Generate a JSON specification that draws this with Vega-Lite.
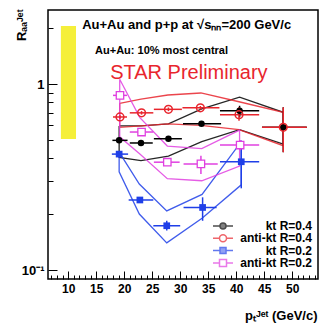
{
  "$schema": "https://vega.github.io/schema/vega-lite/v6.json",
  "width": 270,
  "height": 269,
  "autosize": {"type": "none"},
  "padding": {"left": 48, "top": 10, "right": 14, "bottom": 50},
  "background": "white",
  "config": {
    "view": {"stroke": "black", "strokeWidth": 1.5},
    "font": "Liberation Sans",
    "axis": {"labelFlush": false, "grid": false, "domain": false, "tickColor": "black", "tickWidth": 1, "tickCount": 100, "labelOverlap": false,
      "labelFont": "Liberation Sans", "labelFontWeight": "bold", "labelColor": "black",
      "titleFont": "Liberation Sans", "titleFontSize": 13, "titleFontWeight": "bold", "titleColor": "black"}
  },
  "datasets": {
    "points": [
      {"series": "kt R=0.4", "x": 19.1, "y": 0.498, "xlo": 17.9, "xhi": 20.6, "ylo": 0.485, "yhi": 0.512},
      {"series": "kt R=0.4", "x": 23.0, "y": 0.482, "xlo": 21.0, "xhi": 25.1, "ylo": 0.47, "yhi": 0.495},
      {"series": "kt R=0.4", "x": 27.9, "y": 0.508, "xlo": 25.3, "xhi": 30.3, "ylo": 0.495, "yhi": 0.522},
      {"series": "kt R=0.4", "x": 33.8, "y": 0.612, "xlo": 30.5, "xhi": 37.3, "ylo": 0.595, "yhi": 0.63},
      {"series": "kt R=0.4", "x": 40.6, "y": 0.718, "xlo": 37.1, "xhi": 44.1, "ylo": 0.662, "yhi": 0.764},
      {"series": "kt R=0.4", "x": 48.4, "y": 0.585, "xlo": 44.6, "xhi": 52.6, "ylo": 0.43, "yhi": 0.75},
      {"series": "anti-kt R=0.4", "x": 19.25, "y": 0.665, "xlo": 18.0, "xhi": 20.5, "ylo": 0.65, "yhi": 0.68},
      {"series": "anti-kt R=0.4", "x": 23.1, "y": 0.70, "xlo": 21.0, "xhi": 25.2, "ylo": 0.685, "yhi": 0.715},
      {"series": "anti-kt R=0.4", "x": 27.9, "y": 0.731, "xlo": 25.3, "xhi": 30.3, "ylo": 0.715, "yhi": 0.748},
      {"series": "anti-kt R=0.4", "x": 33.6, "y": 0.745, "xlo": 30.4, "xhi": 37.0, "ylo": 0.728, "yhi": 0.762},
      {"series": "anti-kt R=0.4", "x": 40.5, "y": 0.684, "xlo": 37.1, "xhi": 44.1, "ylo": 0.635, "yhi": 0.752},
      {"series": "anti-kt R=0.4", "x": 48.4, "y": 0.585, "xlo": 44.6, "xhi": 52.6, "ylo": 0.43, "yhi": 0.75},
      {"series": "kt R=0.2", "x": 19.1, "y": 0.42, "xlo": 17.8, "xhi": 20.7, "ylo": 0.41, "yhi": 0.43},
      {"series": "kt R=0.2", "x": 22.8, "y": 0.238, "xlo": 20.8, "xhi": 25.2, "ylo": 0.232, "yhi": 0.245},
      {"series": "kt R=0.2", "x": 27.6, "y": 0.173, "xlo": 25.2, "xhi": 30.0, "ylo": 0.163, "yhi": 0.184},
      {"series": "kt R=0.2", "x": 34.0, "y": 0.217, "xlo": 30.6, "xhi": 36.5, "ylo": 0.184, "yhi": 0.246},
      {"series": "kt R=0.2", "x": 40.9, "y": 0.382, "xlo": 37.1, "xhi": 44.1, "ylo": 0.275, "yhi": 0.45},
      {"series": "anti-kt R=0.2", "x": 19.25, "y": 0.869, "xlo": 18.0, "xhi": 20.5, "ylo": 0.85, "yhi": 0.89},
      {"series": "anti-kt R=0.2", "x": 23.1, "y": 0.552, "xlo": 21.0, "xhi": 25.2, "ylo": 0.54, "yhi": 0.565},
      {"series": "anti-kt R=0.2", "x": 27.7, "y": 0.38, "xlo": 25.3, "xhi": 29.9, "ylo": 0.37, "yhi": 0.39},
      {"series": "anti-kt R=0.2", "x": 33.7, "y": 0.372, "xlo": 30.6, "xhi": 36.7, "ylo": 0.328, "yhi": 0.412},
      {"series": "anti-kt R=0.2", "x": 40.7, "y": 0.47, "xlo": 37.1, "xhi": 44.1, "ylo": 0.44, "yhi": 0.50}
    ],
    "bands": [
      {"series": "kt R=0.4", "ord": 0, "x": 19.1, "y": 0.595},
      {"series": "kt R=0.4", "ord": 1, "x": 23.0, "y": 0.595},
      {"series": "kt R=0.4", "ord": 2, "x": 27.9, "y": 0.61},
      {"series": "kt R=0.4", "ord": 3, "x": 33.85, "y": 0.735},
      {"series": "kt R=0.4", "ord": 4, "x": 40.6, "y": 0.85},
      {"series": "kt R=0.4", "ord": 5, "x": 48.4, "y": 0.705},
      {"series": "kt R=0.4", "ord": 6, "x": 48.4, "y": 0.476},
      {"series": "kt R=0.4", "ord": 7, "x": 40.6, "y": 0.568},
      {"series": "kt R=0.4", "ord": 8, "x": 33.85, "y": 0.49},
      {"series": "kt R=0.4", "ord": 9, "x": 27.9, "y": 0.41},
      {"series": "kt R=0.4", "ord": 10, "x": 23.0, "y": 0.387},
      {"series": "kt R=0.4", "ord": 11, "x": 19.1, "y": 0.403},
      {"series": "kt R=0.4", "ord": 12, "x": 19.1, "y": 0.595},
      {"series": "anti-kt R=0.4", "ord": 0, "x": 19.2, "y": 0.787},
      {"series": "anti-kt R=0.4", "ord": 1, "x": 23.0, "y": 0.83},
      {"series": "anti-kt R=0.4", "ord": 2, "x": 27.8, "y": 0.873},
      {"series": "anti-kt R=0.4", "ord": 3, "x": 33.7, "y": 0.895},
      {"series": "anti-kt R=0.4", "ord": 4, "x": 40.5, "y": 0.803},
      {"series": "anti-kt R=0.4", "ord": 5, "x": 48.4, "y": 0.705},
      {"series": "anti-kt R=0.4", "ord": 6, "x": 48.4, "y": 0.466},
      {"series": "anti-kt R=0.4", "ord": 7, "x": 40.5, "y": 0.568},
      {"series": "anti-kt R=0.4", "ord": 8, "x": 33.7, "y": 0.60},
      {"series": "anti-kt R=0.4", "ord": 9, "x": 27.8, "y": 0.61},
      {"series": "anti-kt R=0.4", "ord": 10, "x": 23.0, "y": 0.595},
      {"series": "anti-kt R=0.4", "ord": 11, "x": 19.2, "y": 0.585},
      {"series": "anti-kt R=0.4", "ord": 12, "x": 19.2, "y": 0.787},
      {"series": "kt R=0.2", "ord": 0, "x": 19.1, "y": 0.43},
      {"series": "kt R=0.2", "ord": 1, "x": 22.7, "y": 0.29},
      {"series": "kt R=0.2", "ord": 2, "x": 27.6, "y": 0.208},
      {"series": "kt R=0.2", "ord": 3, "x": 33.9, "y": 0.255},
      {"series": "kt R=0.2", "ord": 4, "x": 40.9, "y": 0.49},
      {"series": "kt R=0.2", "ord": 5, "x": 40.9, "y": 0.287},
      {"series": "kt R=0.2", "ord": 6, "x": 33.9, "y": 0.19},
      {"series": "kt R=0.2", "ord": 7, "x": 27.6, "y": 0.14},
      {"series": "kt R=0.2", "ord": 8, "x": 22.7, "y": 0.2},
      {"series": "kt R=0.2", "ord": 9, "x": 19.1, "y": 0.337},
      {"series": "kt R=0.2", "ord": 10, "x": 19.1, "y": 0.43},
      {"series": "anti-kt R=0.2", "ord": 0, "x": 19.2, "y": 1.06},
      {"series": "anti-kt R=0.2", "ord": 1, "x": 22.8, "y": 0.66},
      {"series": "anti-kt R=0.2", "ord": 2, "x": 27.7, "y": 0.464},
      {"series": "anti-kt R=0.2", "ord": 3, "x": 33.85, "y": 0.45},
      {"series": "anti-kt R=0.2", "ord": 4, "x": 40.6, "y": 0.565},
      {"series": "anti-kt R=0.2", "ord": 5, "x": 40.6, "y": 0.362},
      {"series": "anti-kt R=0.2", "ord": 6, "x": 33.85, "y": 0.302},
      {"series": "anti-kt R=0.2", "ord": 7, "x": 27.7, "y": 0.31},
      {"series": "anti-kt R=0.2", "ord": 8, "x": 22.8, "y": 0.42},
      {"series": "anti-kt R=0.2", "ord": 9, "x": 19.2, "y": 0.52},
      {"series": "anti-kt R=0.2", "ord": 10, "x": 19.2, "y": 1.06}
    ]
  },
  "resolve": {"axis": {"x": "independent", "y": "independent"}},
  "layer": [
    {
      "data": {"values": [{"x1": 8.7, "x2": 11.4, "y1": 0.506, "y2": 2.05}]},
      "mark": {"type": "rect", "color": "#f5ef3a"},
      "encoding": {
        "x": {
          "field": "x1", "type": "quantitative",
          "scale": {"domain": [6.4, 54.6], "nice": false, "zero": false},
          "axis": {"orient": "bottom", "title": null, "labels": false, "offset": -4, "tickSize": 4, "tickCount": 100,
            "values": [7,8,9,11,12,13,14,16,17,18,19,21,22,23,24,26,27,28,29,31,32,33,34,36,37,38,39,41,42,43,44,46,47,48,49,51,52,53,54]}
        },
        "x2": {"field": "x2"},
        "y": {
          "field": "y1", "type": "quantitative",
          "scale": {"type": "log", "domain": [0.0895, 2.5], "nice": false},
          "axis": {"orient": "left", "title": null, "labels": false, "offset": -5, "tickSize": 5, "tickCount": 100,
            "values": [0.2,0.3,0.4,0.5,0.6,0.7,0.8,0.9,2]}
        },
        "y2": {"field": "y2"}
      }
    },
    {
      "layer": [
        {
          "data": {"name": "bands"},
          "mark": {"type": "line", "strokeWidth": 1.3, "opacity": 0.85},
          "encoding": {
            "x": {"field": "x", "type": "quantitative",
              "axis": {
                "orient": "bottom",
                "title": "pₜᴶᵉᵗ (GeV/c)",
                "values": [10,15,20,25,30,35,40,45,50], "tickCount": 100, "format": "d",
                "offset": -8, "tickSize": 8,
                "labelFontSize": 12, "labelPadding": 4, "labelOverlap": false,
                "titleAnchor": "end", "titleAlign": "right", "titleBaseline": "alphabetic",
                "titleX": 269, "titleY": 48
              }},
            "y": {"field": "y", "type": "quantitative",
              "axis": {
                "orient": "left",
                "title": "Rₐₐᴶᵉᵗ",
                "values": [0.1, 1], "tickCount": 100,
                "labelExpr": "datum.value == 1 ? '1' : '10⁻¹'",
                "offset": -9, "tickSize": 9,
                "labelFontSize": 13, "labelPadding": 4,
                "titleAnchor": "end", "titleAngle": -90, "titleAlign": "right", "titleBaseline": "alphabetic",
                "titleX": -32, "titleY": -1
              }},
            "order": {"field": "ord", "type": "quantitative"},
            "color": {"field": "series", "type": "nominal", "legend": null,
              "scale": {"domain": ["kt R=0.2", "anti-kt R=0.2", "kt R=0.4", "anti-kt R=0.4"], "range": ["#1f3fe8", "#e040e0", "#000000", "#e8252d"]}}
          }
        },
        {
          "data": {"name": "points"},
          "mark": {"type": "rule", "strokeWidth": 1.5},
          "encoding": {
            "x": {"field": "xlo", "type": "quantitative"},
            "x2": {"field": "xhi"},
            "y": {"field": "y", "type": "quantitative"},
            "color": {"field": "series", "type": "nominal", "legend": null}
          }
        },
        {
          "data": {"name": "points"},
          "mark": {"type": "rule", "strokeWidth": 1.5},
          "encoding": {
            "x": {"field": "x", "type": "quantitative"},
            "y": {"field": "ylo", "type": "quantitative"},
            "y2": {"field": "yhi"},
            "color": {"field": "series", "type": "nominal", "legend": null}
          }
        },
        {
          "data": {"name": "points"},
          "transform": [{"filter": "datum.series == 'kt R=0.4'"}],
          "mark": {"type": "point", "shape": "circle", "filled": true, "color": "#000000", "size": 42, "opacity": 1},
          "encoding": {"x": {"field": "x", "type": "quantitative"}, "y": {"field": "y", "type": "quantitative"}}
        },
        {
          "data": {"name": "points"},
          "transform": [{"filter": "datum.series == 'anti-kt R=0.4'"}],
          "mark": {"type": "point", "shape": "circle", "filled": false, "stroke": "#e8252d", "strokeWidth": 1.5, "size": 60, "opacity": 1},
          "encoding": {"x": {"field": "x", "type": "quantitative"}, "y": {"field": "y", "type": "quantitative"}}
        },
        {
          "data": {"name": "points"},
          "transform": [{"filter": "datum.series == 'kt R=0.2'"}],
          "mark": {"type": "point", "shape": "square", "filled": true, "color": "#1f3fe8", "size": 45, "opacity": 1},
          "encoding": {"x": {"field": "x", "type": "quantitative"}, "y": {"field": "y", "type": "quantitative"}}
        },
        {
          "data": {"name": "points"},
          "transform": [{"filter": "datum.series == 'anti-kt R=0.2'"}],
          "mark": {"type": "point", "shape": "square", "filled": true, "fill": "white", "stroke": "#e040e0", "strokeWidth": 1.3, "size": 55, "opacity": 1},
          "encoding": {"x": {"field": "x", "type": "quantitative"}, "y": {"field": "y", "type": "quantitative"}}
        },
        {
          "data": {"name": "points"},
          "transform": [{"filter": "datum.x > 1000"}],
          "mark": {"type": "point", "filled": true, "strokeWidth": 1.5},
          "encoding": {
            "x": {"field": "x", "type": "quantitative"},
            "y": {"field": "y", "type": "quantitative"},
            "shape": {"field": "series", "type": "nominal",
              "scale": {"domain": ["kt R=0.4", "anti-kt R=0.4", "kt R=0.2", "anti-kt R=0.2"],
                "range": [
                  "M-1,0H-0.3M0.3,0H1M0.3,0A0.3,0.3 0 1,1 -0.3,0A0.3,0.3 0 1,1 0.3,0Z",
                  "M-1,0H-0.35M0.35,0H1M0.35,0A0.35,0.35 0 1,1 -0.35,0A0.35,0.35 0 1,1 0.35,0Z",
                  "M-1,0H-0.3M0.3,0H1M-0.3,-0.3H0.3V0.3H-0.3Z",
                  "M-1,0H-0.35M0.35,0H1M-0.35,-0.35H0.35V0.35H-0.35Z"
                ]},
              "legend": {"title": null, "orient": "none", "legendX": 164, "legendY": 211, "padding": 0,
                "symbolSize": 400, "symbolStrokeWidth": 1.5, "clipHeight": 10, "rowPadding": 0.3,
                "labelAlign": "right", "labelOffset": 78, "labelFontSize": 12, "labelFontWeight": "bold", "labelColor": "black"}},
            "stroke": {"field": "series", "type": "nominal",
              "scale": {"domain": ["kt R=0.4", "anti-kt R=0.4", "kt R=0.2", "anti-kt R=0.2"], "range": ["#000000", "#e8252d", "#1f3fe8", "#e040e0"]},
              "legend": {"title": null, "orient": "none", "legendX": 164, "legendY": 211, "padding": 0,
                "symbolSize": 400, "symbolStrokeWidth": 1.5, "clipHeight": 10, "rowPadding": 0.3,
                "labelAlign": "right", "labelOffset": 78, "labelFontSize": 12, "labelFontWeight": "bold", "labelColor": "black"}},
            "fill": {"field": "series", "type": "nominal",
              "scale": {"domain": ["kt R=0.4", "anti-kt R=0.4", "kt R=0.2", "anti-kt R=0.2"], "range": ["#000000", "#ffffff", "#1f3fe8", "#ffffff"]},
              "legend": {"title": null, "orient": "none", "legendX": 164, "legendY": 211, "padding": 0,
                "symbolSize": 400, "symbolStrokeWidth": 1.5, "clipHeight": 10, "rowPadding": 0.3,
                "labelAlign": "right", "labelOffset": 78, "labelFontSize": 12, "labelFontWeight": "bold", "labelColor": "black"}}
          }
        },
        {
          "data": {"values": [{}]},
          "mark": {"type": "text", "align": "left", "baseline": "middle", "font": "Liberation Sans", "fontWeight": "bold", "fontSize": 13, "color": "black"},
          "encoding": {
            "x": {"datum": 12.5, "type": "quantitative"},
            "y": {"datum": 2.08, "type": "quantitative"},
            "text": {"value": "Au+Au and p+p at √sₙₙ=200 GeV/c"}
          }
        },
        {
          "data": {"values": [{}]},
          "mark": {"type": "text", "align": "left", "baseline": "middle", "font": "Liberation Sans", "fontWeight": "bold", "fontSize": 11, "color": "black"},
          "encoding": {
            "x": {"datum": 14.8, "type": "quantitative"},
            "y": {"datum": 1.5, "type": "quantitative"},
            "text": {"value": "Au+Au: 10% most central"}
          }
        },
        {
          "data": {"values": [{}]},
          "mark": {"type": "text", "align": "left", "baseline": "middle", "font": "Liberation Sans", "fontWeight": "normal", "fontSize": 20, "color": "#e8252d"},
          "encoding": {
            "x": {"datum": 17.5, "type": "quantitative"},
            "y": {"datum": 1.146, "type": "quantitative"},
            "text": {"value": "STAR Preliminary"}
          }
        }
      ]
    }
  ]
}
